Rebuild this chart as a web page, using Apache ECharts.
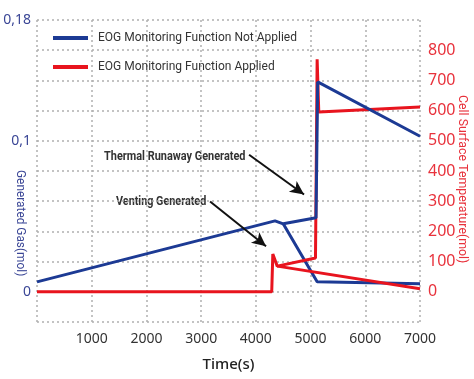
<!DOCTYPE html>
<html><head><meta charset="utf-8">
<script src="https://cdn.jsdelivr.net/npm/echarts@6/dist/echarts.min.js"></script>
<style>html,body{margin:0;padding:0;background:#fff}#c{width:474px;height:379px}</style>
</head><body><div id="c"></div>
<script>
// ---- data ----
var seriesNames = ['EOG Monitoring Function Not Applied', 'EOG Monitoring Function Applied'];
// Not applied (blue), generated gas (left axis, mol)
var blueMainT = [0, 4350, 4500, 5100, 5130, 7000];
var blueMainV = [0.0066, 0.047, 0.045, 0.049, 0.139, 0.103];
var blueDropT = [4500, 5120, 7000];
var blueDropV = [0.045, 0.0066, 0.0053];
// Applied (red), cell surface temperature (right axis)
var redMainT = [0, 4290, 4310, 4390, 5090, 5120, 5150, 7000];
var redMainV = [0, 0, 125, 85, 112, 770, 595, 612];
var redDropT = [4390, 7000];
var redDropV = [85, 10];
// annotation arrows (time, right-axis value)
var arrowThermal = [[3876, 454], [4881, 322]];
var arrowVenting = [[3163, 299], [4186, 151]];
var xTicks = [1000, 2000, 3000, 4000, 5000, 6000, 7000];
var leftTickVals = [0, 0.1, 0.18];
var leftTickLabels = ['0', '0,1', '0,18'];
var rightTickVals = [0, 100, 200, 300, 400, 500, 600, 700, 800];

function zip(t, v) { return t.map(function (x, i) { return [x, v[i]]; }); }

var BLUE = '#1c3a94', RED = '#e8141e';
var FONT = 'Noto Sans';
var NARROW = 'Roboto';
var split = { show: true, lineStyle: { color: '#b0b0b0', type: [2, 3], width: 1.5 } };

var chart = echarts.init(document.getElementById('c'));
chart.setOption({
  animation: false,
  grid: { left: 37, right: 54, top: 20, bottom: 57, outerBoundsMode: 'none', containLabel: false },
  legend: {
    orient: 'vertical', left: 53, top: 32, itemGap: 17, padding: 0,
    itemWidth: 35, itemHeight: 4,
    data: seriesNames,
    textStyle: { fontFamily: NARROW, fontSize: 12, color: '#333', padding: [0, 0, 0, 5] },
    icon: 'rect'
  },
  xAxis: {
    type: 'value', min: 0, max: 7000, interval: 1000,
    axisLine: { show: false }, axisTick: { show: false },
    splitLine: split,
    axisLabel: {
      fontFamily: FONT, fontSize: 14, color: '#333', margin: 10,
      formatter: function (v) { return xTicks.indexOf(v) >= 0 ? String(v) : ''; }
    },
    name: 'Time(s)', nameLocation: 'middle', nameGap: 35,
    nameTextStyle: { fontFamily: FONT, fontSize: 15, color: '#222', fontWeight: 500 }
  },
  yAxis: [{
    type: 'value', min: -0.02, max: 0.18, interval: 0.02,
    axisLine: { show: false }, axisTick: { show: false },
    splitLine: split,
    axisLabel: {
      fontFamily: FONT, fontSize: 14, color: '#3a4696', margin: 6,
      formatter: function (v) {
        var i = leftTickVals.findIndex(function (t) { return Math.abs(t - v) < 1e-6; });
        return i >= 0 ? leftTickLabels[i] : '';
      }
    }
  }, {
    type: 'value', min: -100, max: 900, interval: 100,
    axisLine: { show: false }, axisTick: { show: false },
    splitLine: { show: false },
    axisLabel: {
      fontFamily: FONT, fontSize: 16, color: '#e8323c', margin: 8,
      formatter: function (v) { return rightTickVals.indexOf(Math.round(v)) >= 0 ? String(Math.round(v)) : ''; }
    }
  }],
  graphic: [
    { type: 'text', rotation: -Math.PI / 2, position: [27, 170], scaleX: 0.95,
      style: { text: 'Generated Gas(mol)', fill: '#3a4696', font: '12.5px ' + NARROW } },
    { type: 'text', rotation: -Math.PI / 2, position: [469, 95], scaleX: 0.95,
      style: { text: 'Cell Surface Temperature(mol)', fill: '#e8323c', font: '13px ' + NARROW } },
    { type: 'text', position: [104, 150], scaleX: 0.84,
      style: { text: 'Thermal Runaway Generated', fill: '#333', font: 'bold 13px ' + NARROW } },
    { type: 'text', position: [116, 195], scaleX: 0.83,
      style: { text: 'Venting Generated', fill: '#333', font: 'bold 13px ' + NARROW } }
  ],
  series: [
    { name: seriesNames[0], type: 'line', yAxisIndex: 0, data: zip(blueDropT, blueDropV),
      symbol: 'none', lineStyle: { color: BLUE, width: 3 }, itemStyle: { color: BLUE } },
    { name: seriesNames[1], type: 'line', yAxisIndex: 1, data: zip(redDropT, redDropV),
      symbol: 'none', lineStyle: { color: RED, width: 3 }, itemStyle: { color: RED } },
    { name: seriesNames[1], type: 'line', yAxisIndex: 1, data: zip(redMainT, redMainV),
      symbol: 'none', lineStyle: { color: RED, width: 3 }, itemStyle: { color: RED },
      markLine: {
        silent: true, symbol: ['none', 'arrow'], symbolSize: [10, 14],
        lineStyle: { color: '#111', width: 2, type: 'solid' }, label: { show: false },
        data: [
          [{ coord: arrowThermal[0] }, { coord: arrowThermal[1] }],
          [{ coord: arrowVenting[0] }, { coord: arrowVenting[1] }]
        ]
      } },
    { name: seriesNames[0], type: 'line', yAxisIndex: 0, data: zip(blueMainT, blueMainV),
      symbol: 'none', lineStyle: { color: BLUE, width: 3 }, itemStyle: { color: BLUE } }
  ]
});
</script></body></html>
